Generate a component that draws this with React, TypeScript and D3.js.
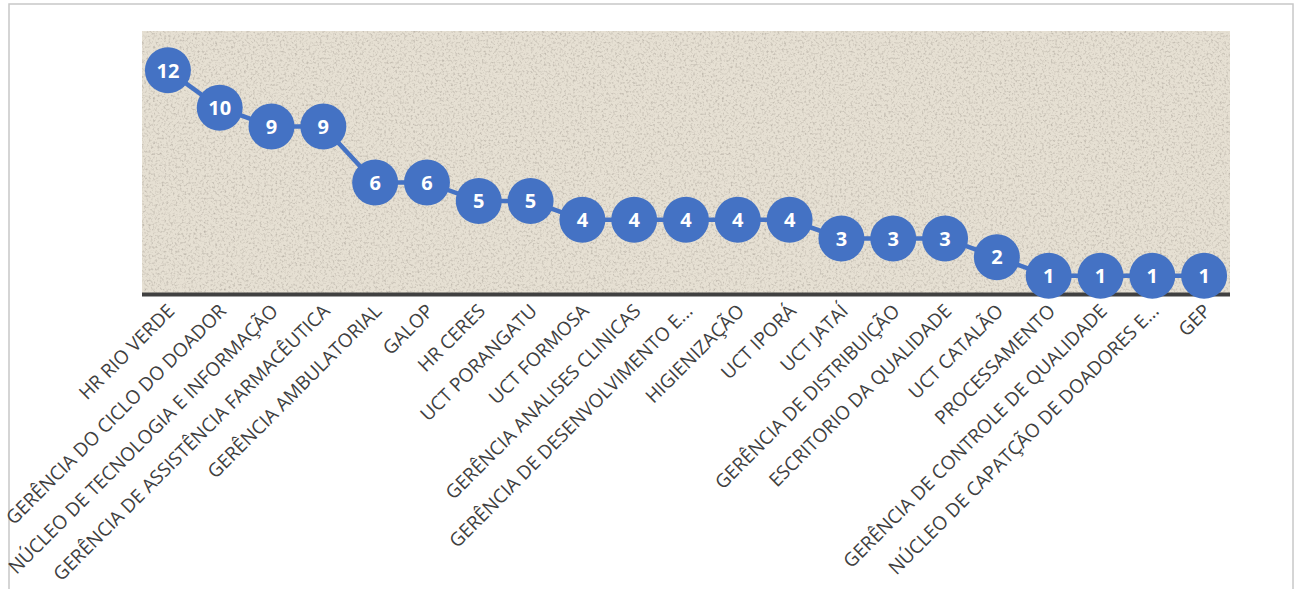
import React from "react";
import * as d3 from "d3";

const categories: string[] = [
  "HR RIO VERDE",
  "GERÊNCIA DO CICLO DO DOADOR",
  "NÚCLEO DE TECNOLOGIA E INFORMAÇÃO",
  "GERÊNCIA DE ASSISTÊNCIA FARMACÊUTICA",
  "GERÊNCIA AMBULATORIAL",
  "GALOP",
  "HR CERES",
  "UCT PORANGATU",
  "UCT FORMOSA",
  "GERÊNCIA ANALISES CLINICAS",
  "GERÊNCIA DE DESENVOLVIMENTO E...",
  "HIGIENIZAÇÃO",
  "UCT IPORÁ",
  "UCT JATAÍ",
  "GERÊNCIA DE DISTRIBUIÇÃO",
  "ESCRITORIO DA QUALIDADE",
  "UCT CATALÃO",
  "PROCESSAMENTO",
  "GERÊNCIA DE CONTROLE DE QUALIDADE",
  "NÚCLEO DE CAPATÇÃO DE DOADORES E...",
  "GEP",
];
const values: number[] = [12, 10, 9, 9, 6, 6, 5, 5, 4, 4, 4, 4, 4, 3, 3, 3, 2, 1, 1, 1, 1];
const yDomain: [number, number] = [0, 14];

const W = 1295;
const H = 589;
const plot = { left: 142, right: 1230, top: 31, bottom: 294.5 };

export default function App() {
  const x = d3
    .scaleBand<string>()
    .domain(categories)
    .range([plot.left, plot.right])
    .paddingInner(0)
    .paddingOuter(0);
  const y = d3.scaleLinear().domain(yDomain).range([plot.bottom, plot.top + 2]);
  const cx = (c: string) => (x(c) as number) + x.bandwidth() / 2;

  const pts = categories.map((c, i) => ({ c, v: values[i] }));
  const line = d3
    .line<{ c: string; v: number }>()
    .x((d) => cx(d.c))
    .y((d) => y(d.v));

  return (
    <svg
      width={W}
      height={H}
      style={{ position: "absolute", left: 0, top: 0, background: "#fff" }}
      fontFamily="'Open Sans', sans-serif"
    >
      <defs>
        <filter id="tex" x="0" y="0" width="100%" height="100%">
          <feTurbulence type="fractalNoise" baseFrequency="0.45" numOctaves={2} seed={3} result="n" />
          <feColorMatrix
            in="n"
            type="matrix"
            values="0 0 0 0 0.50
                    0 0 0 0 0.46
                    0 0 0 0 0.40
                    0 0 0 -2.4 1.25"
            result="spots"
          />
          <feComposite in="spots" in2="SourceGraphic" operator="in" result="sp" />
          <feMerge>
            <feMergeNode in="SourceGraphic" />
            <feMergeNode in="sp" />
          </feMerge>
        </filter>
      </defs>
      <rect x={9} y={4} width={1284} height={620} fill="#fff" stroke="#c8c8c8" strokeWidth={1.5} />
      <rect
        x={plot.left}
        y={plot.top}
        width={plot.right - plot.left}
        height={plot.bottom - plot.top}
        fill="#e6e0d3"
        filter="url(#tex)"
      />
      <line
        x1={plot.left}
        x2={plot.right}
        y1={plot.bottom}
        y2={plot.bottom}
        stroke="#404040"
        strokeWidth={4}
      />
      <path d={line(pts) || ""} fill="none" stroke="#4472C4" strokeWidth={4.5} />
      {pts.map((d) => (
        <g key={d.c}>
          <circle cx={cx(d.c)} cy={y(d.v)} r={23} fill="#4472C4" />
          <text
            x={cx(d.c)}
            y={y(d.v)}
            dy="0.36em"
            textAnchor="middle"
            fill="#fff"
            fontWeight={700}
            fontSize={20}
          >
            {d.v}
          </text>
        </g>
      ))}
      {categories.map((c) => (
        <text
          key={c}
          transform={`translate(${cx(c) + 3},${plot.bottom + 13}) rotate(-45)`}
          textAnchor="end"
          dy="0.35em"
          fill="#404040"
          fontSize={19}
        >
          {c}
        </text>
      ))}
    </svg>
  );
}
